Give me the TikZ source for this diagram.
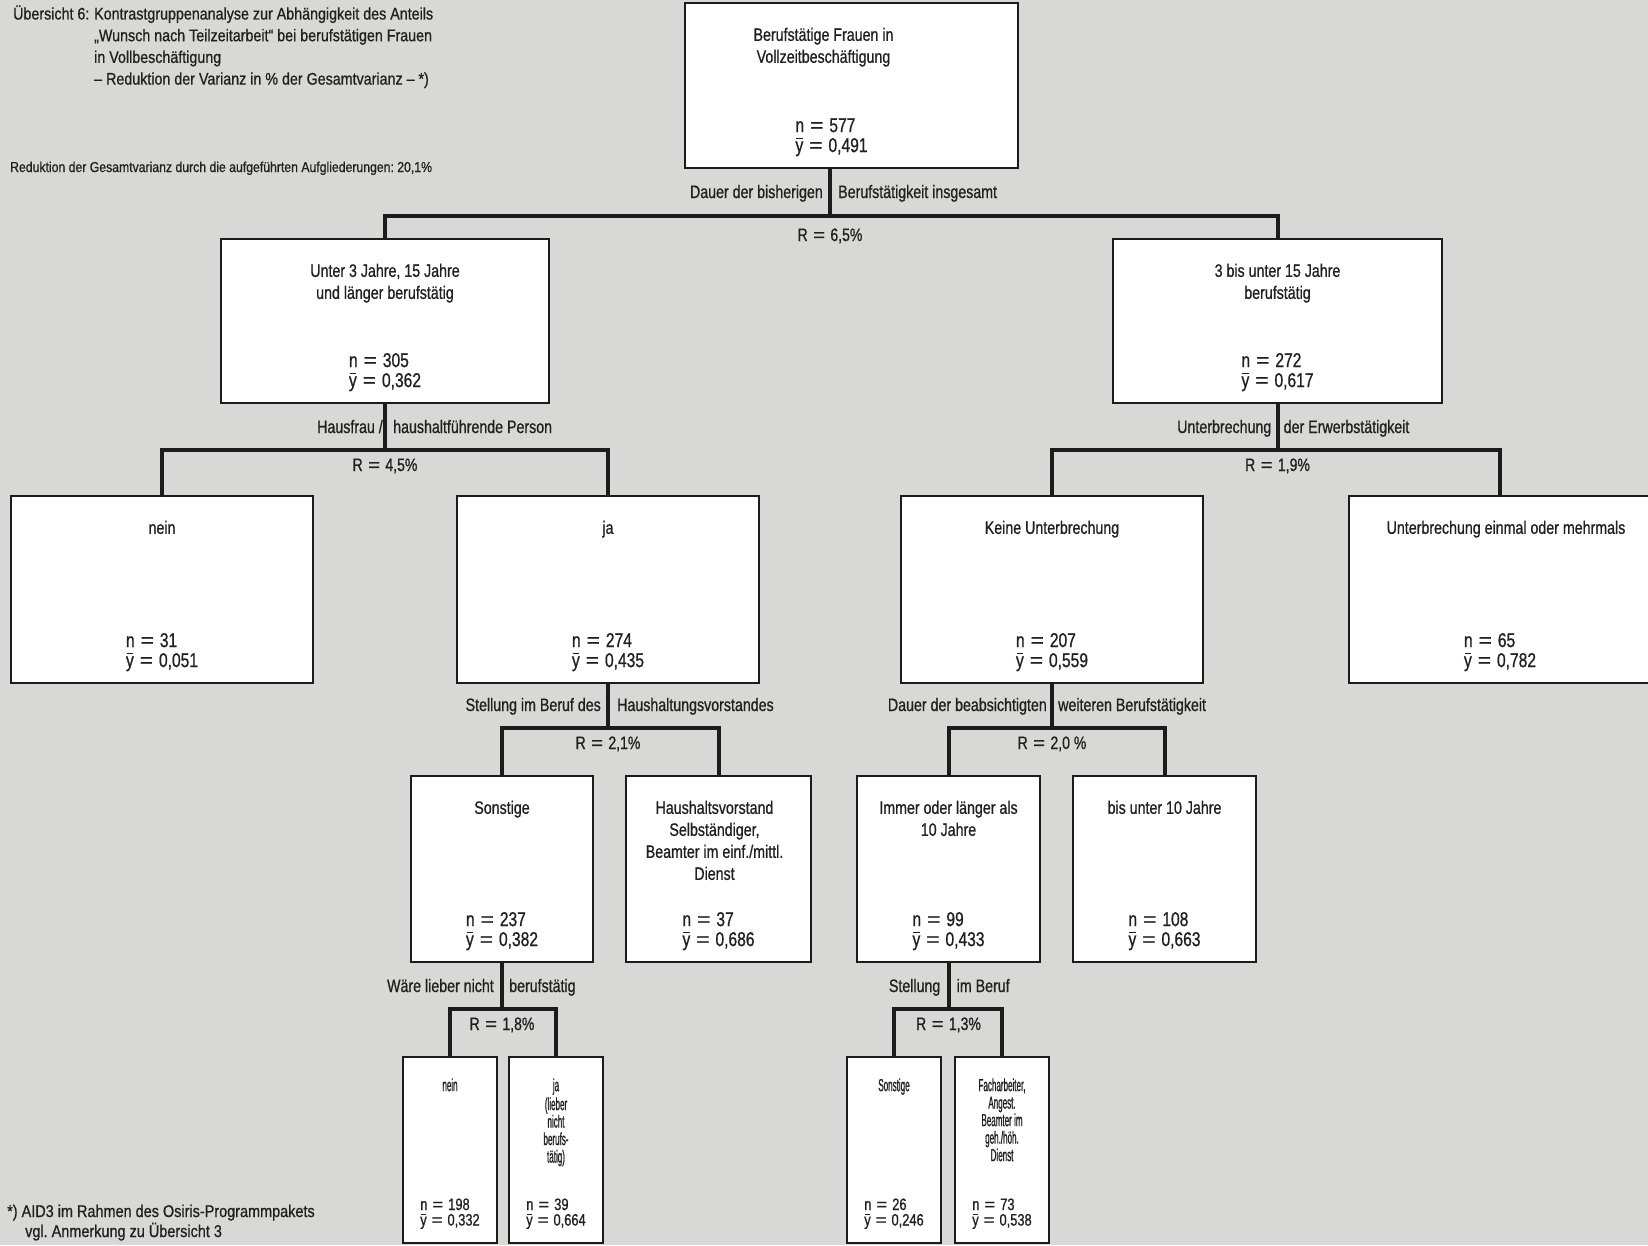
\documentclass[tikz,border=0pt]{standalone}
\usepackage{fontspec}
\usepackage{graphicx}
\setmainfont{Liberation Sans}[FakeStretch=0.79,FakeBold=0.8]
\newfontfamily\statfont{Liberation Sans}[FakeStretch=0.78,FakeBold=0.8]
\newfontfamily\narrowfont{Liberation Sans}[FakeStretch=0.46,FakeBold=0.8]
\newfontfamily\headfont{Liberation Sans}[FakeStretch=0.85,FakeBold=0.8]
\usetikzlibrary{calc}
\definecolor{paper}{RGB}{216,216,214}
\definecolor{ink}{RGB}{32,32,32}
\definecolor{linec}{RGB}{28,28,28}
\newcommand\eqs{\hspace{0.3em}\scalebox{1.45}[1]{=}\hspace{0.3em}}
\newcommand\yb{\leavevmode\setbox0=\hbox{y}\rlap{\hbox to\wd0{\hss\raisebox{0.66em}{\rule{0.8\wd0}{0.065em}}\hss}}\box0}
\newcommand\nst[2]{n\eqs#1\\\yb\eqs#2\strut}
\frenchspacing
\begin{document}
\begin{tikzpicture}[x=1pt,y=-1pt,
  box/.style={draw=linec, line width=1.5pt, fill=white, inner sep=0pt},
  ttl/.style={anchor=north, align=center, inner sep=0pt, text=ink, font=\fontsize{18}{22}\selectfont},
  ttlN/.style={anchor=north, align=center, inner sep=0pt, text=ink, font=\narrowfont\fontsize{17.5}{17.5}\selectfont},
  stt/.style={anchor=south, align=left, inner sep=0pt, text=ink, font=\statfont\fontsize{20}{20}\selectfont},
  sttN/.style={anchor=south, align=left, inner sep=0pt, text=ink, font=\statfont\fontsize{16.5}{15.5}\selectfont},
  conn/.style={draw=linec, line width=4pt},
  lbl/.style={inner sep=0pt, text=ink, font=\fontsize{18}{22}\selectfont},
  rlab/.style={inner sep=0pt, text=ink, anchor=base, font=\statfont\fontsize{18}{22}\selectfont},
  hd/.style={inner sep=0pt, text=ink, font=\headfont\fontsize{16.8}{21.7}\selectfont}]
\fill[paper] (0,0) rectangle (1648,1245);
\useasboundingbox (0,0) rectangle (1648,1245);

% header
\node[hd, anchor=north west] (hdA) at (13,4.1) {\strut Übersicht 6:};
\node[hd, anchor=north west, align=left] (hdB) at (94,4.1) {\strut Kontrastgruppenanalyse zur Abhängigkeit des Anteils\\„Wunsch nach Teilzeitarbeit“ bei berufstätigen Frauen\\in Vollbeschäftigung\\– Reduktion der Varianz in \% der Gesamtvarianz – *)};
\node[hd, anchor=base west, font=\headfont\fontsize{14.4}{16}\selectfont] (red) at (10,172) {Reduktion der Gesamtvarianz durch die aufgeführten Aufgliederungen: 20,1\%};
\node[hd, anchor=base west, font=\headfont\fontsize{17}{20}\selectfont] (fn1) at (7,1217) {*) AID3 im Rahmen des Osiris-Programmpakets};
\node[hd, anchor=base west, font=\headfont\fontsize{17}{20}\selectfont] (fn2) at (25,1237) {vgl. Anmerkung zu Übersicht 3};

% boxes
\node[box, minimum width=333pt, minimum height=165pt] (root) at (851.5,85.5) {};
\node[box, minimum width=328pt, minimum height=164pt] (A) at (385,321) {};
\node[box, minimum width=329pt, minimum height=164pt] (B) at (1277.5,321) {};
\node[box, minimum width=302pt, minimum height=187pt] (A1) at (162,589.5) {};
\node[box, minimum width=302pt, minimum height=187pt] (A2) at (608,589.5) {};
\node[box, minimum width=302pt, minimum height=187pt] (B1) at (1052,589.5) {};
\node[box, minimum width=302pt, minimum height=187pt] (B2) at (1500,589.5) {};
\node[box, minimum width=182pt, minimum height=186pt] (A21) at (502,869) {};
\node[box, minimum width=185pt, minimum height=186pt] (A22) at (718.5,869) {};
\node[box, minimum width=183pt, minimum height=186pt] (B11) at (948.5,869) {};
\node[box, minimum width=183pt, minimum height=186pt] (B12) at (1164.5,869) {};
\node[box, minimum width=94pt, minimum height=186pt] (A211) at (450,1150) {};
\node[box, minimum width=94pt, minimum height=186pt] (A212) at (556,1150) {};
\node[box, minimum width=94pt, minimum height=186pt] (B111) at (894,1150) {};
\node[box, minimum width=94pt, minimum height=186pt] (B112) at (1002,1150) {};

% box texts
\node[ttl] (t0) at ($(root.north)+(-28,23)$) {\strut Berufstätige Frauen in\\Vollzeitbeschäftigung};
\node[stt] (s0) at ($(root.south)+(-20,-10.5)$) {\nst{577}{0,491}};
\node[ttl] (tA) at ($(A.north)+(0,23)$) {\strut Unter 3 Jahre, 15 Jahre\\und länger berufstätig};
\node[stt] (sA) at ($(A.south)+(0,-10.5)$) {\nst{305}{0,362}};
\node[ttl] (tB) at ($(B.north)+(0,23)$) {\strut 3 bis unter 15 Jahre\\berufstätig};
\node[stt] (sB) at ($(B.south)+(0,-10.5)$) {\nst{272}{0,617}};
\node[ttl] (tA1) at ($(A1.north)+(0,23)$) {\strut nein};
\node[stt] (sA1) at ($(A1.south)+(0,-10.5)$) {\nst{31}{0,051}};
\node[ttl] (tA2) at ($(A2.north)+(0,23)$) {\strut ja};
\node[stt] (sA2) at ($(A2.south)+(0,-10.5)$) {\nst{274}{0,435}};
\node[ttl] (tB1) at ($(B1.north)+(0,23)$) {\strut Keine Unterbrechung};
\node[stt] (sB1) at ($(B1.south)+(0,-10.5)$) {\nst{207}{0,559}};
\node[ttl] (tB2) at ($(B2.north)+(6,23)$) {\strut Unterbrechung einmal oder mehrmals};
\node[stt] (sB2) at ($(B2.south)+(0,-10.5)$) {\nst{65}{0,782}};
\node[ttl] (tA21) at ($(A21.north)+(0,23)$) {\strut Sonstige};
\node[stt] (sA21) at ($(A21.south)+(0,-10.5)$) {\nst{237}{0,382}};
\node[ttl] (tA22) at ($(A22.north)+(-4,23)$) {\strut Haushaltsvorstand\\Selbständiger,\\Beamter im einf./mittl.\\Dienst};
\node[stt] (sA22) at ($(A22.south)+(0,-10.5)$) {\nst{37}{0,686}};
\node[ttl] (tB11) at ($(B11.north)+(0,23)$) {\strut Immer oder länger als\\10 Jahre};
\node[stt] (sB11) at ($(B11.south)+(0,-10.5)$) {\nst{99}{0,433}};
\node[ttl] (tB12) at ($(B12.north)+(0,23)$) {\strut bis unter 10 Jahre};
\node[stt] (sB12) at ($(B12.south)+(0,-10.5)$) {\nst{108}{0,663}};
\node[ttlN] (tA211) at ($(A211.north)+(0,22)$) {\strut nein};
\node[sttN] (sA211) at ($(A211.south)+(0,-13.4)$) {\nst{198}{0,332}};
\node[ttlN] (tA212) at ($(A212.north)+(0,22)$) {\strut ja\\(lieber\\nicht\\berufs-\\tätig)};
\node[sttN] (sA212) at ($(A212.south)+(0,-13.4)$) {\nst{39}{0,664}};
\node[ttlN] (tB111) at ($(B111.north)+(0,22)$) {\strut Sonstige};
\node[sttN] (sB111) at ($(B111.south)+(0,-13.4)$) {\nst{26}{0,246}};
\node[ttlN] (tB112) at ($(B112.north)+(0,22)$) {\strut Facharbeiter,\\Angest.\\Beamter im\\geh./höh.\\Dienst};
\node[sttN] (sB112) at ($(B112.south)+(0,-13.4)$) {\nst{73}{0,538}};

% junctions
\coordinate (j0) at (830,216);
\coordinate (j1) at (385,450);
\coordinate (j2) at (1277.5,450);
\coordinate (j3) at (608,728);
\coordinate (j4) at (1052,728);
\coordinate (j5) at (502,1009);
\coordinate (j6) at (948.5,1009);

% connectors
\draw[conn] (root.south -| j0) -- (j0);
\draw[conn] (A.north) |- (j0) -| (B.north);
\draw[conn] (A.south) -- (j1);
\draw[conn] (A1.north) |- (j1) -| (A2.north);
\draw[conn] (B.south) -- (j2);
\draw[conn] (B1.north) |- (j2) -| (B2.north);
\draw[conn] (A2.south) -- (j3);
\draw[conn] (A21.north) |- (j3) -| (A22.north);
\draw[conn] (B1.south) -- (j4);
\draw[conn] (B11.north) |- (j4) -| (B12.north);
\draw[conn] (A21.south) -- (j5);
\draw[conn] (A211.north) |- (j5) -| (A212.north);
\draw[conn] (B11.south) -- (j6);
\draw[conn] (B111.north) |- (j6) -| (B112.north);

% split labels
\node[lbl, anchor=base east] (l0a) at ($(j0)+(-7,-18)$) {Dauer der bisherigen};
\node[lbl, anchor=base west] (l0b) at ($(j0)+(8,-18)$) {Berufstätigkeit insgesamt};
\node[rlab] (r0) at ($(j0)+(0,25)$) {R\eqs 6,5\%};
\node[lbl, anchor=base east] (l1a) at ($(j1)+(-2,-17)$) {Hausfrau /};
\node[lbl, anchor=base west] (l1b) at ($(j1)+(8,-17)$) {haushaltführende Person};
\node[rlab] (r1) at ($(j1)+(0,21)$) {R\eqs 4,5\%};
\node[lbl, anchor=base east] (l2a) at ($(j2)+(-6,-17)$) {Unterbrechung};
\node[lbl, anchor=base west] (l2b) at ($(j2)+(6,-17)$) {der Erwerbstätigkeit};
\node[rlab] (r2) at ($(j2)+(0,21)$) {R\eqs 1,9\%};
\node[lbl, anchor=base east] (l3a) at ($(j3)+(-7,-17)$) {Stellung im Beruf des};
\node[lbl, anchor=base west] (l3b) at ($(j3)+(9,-17)$) {Haushaltungsvorstandes};
\node[rlab] (r3) at ($(j3)+(0,21)$) {R\eqs 2,1\%};
\node[lbl, anchor=base east] (l4a) at ($(j4)+(-5,-17)$) {Dauer der beabsichtigten};
\node[lbl, anchor=base west] (l4b) at ($(j4)+(6,-17)$) {weiteren Berufstätigkeit};
\node[rlab] (r4) at ($(j4)+(0,21)$) {R\eqs 2,0 \%};
\node[lbl, anchor=base east] (l5a) at ($(j5)+(-8,-17)$) {Wäre lieber nicht};
\node[lbl, anchor=base west] (l5b) at ($(j5)+(7,-17)$) {berufstätig};
\node[rlab] (r5) at ($(j5)+(0,21)$) {R\eqs 1,8\%};
\node[lbl, anchor=base east] (l6a) at ($(j6)+(-8,-17)$) {Stellung};
\node[lbl, anchor=base west] (l6b) at ($(j6)+(8,-17)$) {im Beruf};
\node[rlab] (r6) at ($(j6)+(0,21)$) {R\eqs 1,3\%};
\end{tikzpicture}
\end{document}
